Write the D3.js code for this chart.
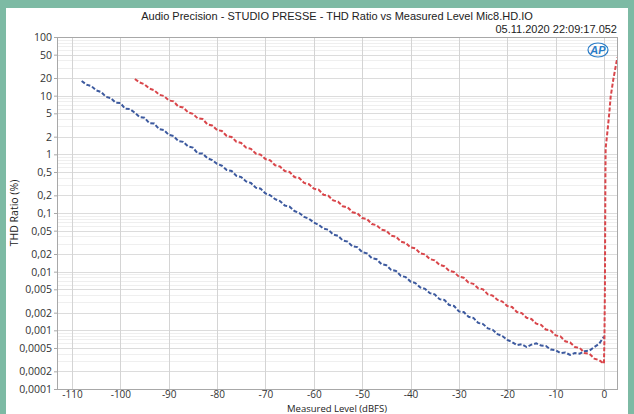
<!DOCTYPE html>
<html>
<head>
<meta charset="utf-8">
<script src="https://cdn.jsdelivr.net/npm/d3@7"></script>
<style>
  body { margin: 0; background: #7dbaa4; }
  svg { display: block; }
</style>
</head>
<body>
<script>
// THD ratio vs measured level

var blueLevel = [-108,-107,-106,-105,-104,-103,-102,-101,-100,-99,-98,-97,-96,-95,-94,-93,-92,-91,-90,-89,
  -88,-87,-86,-85,-84,-83,-82,-81,-80,-79,-78,-77,-76,-75,-74,-73,-72,-71,-70,-69,
  -68,-67,-66,-65,-64,-63,-62,-61,-60,-59,-58,-57,-56,-55,-54,-53,-52,-51,-50,-49,
  -48,-47,-46,-45,-44,-43,-42,-41,-40,-39,-38,-37,-36,-35,-34,-33,-32,-31,-30,-29,
  -28,-27,-26,-25,-24,-23,-22,-21,-20,-19,-18,-17,-16,-15,-14,-13,-12,-11,-10,-9,
  -8,-7,-6,-5,-4,-3,-2,-1,0];
var blueThd = [17.8,15.4,14.6,12.3,11.6,9.6,9.1,7.6,7.5,6.0,5.9,5.1,4.3,4.2,3.4,3.35,2.7,2.6,2.15,2.05,
  1.68,1.63,1.36,1.3,1.04,1.03,0.86,0.8,0.69,0.64,0.54,0.52,0.43,0.41,0.345,0.325,0.27,0.26,0.215,0.2,
  0.172,0.16,0.134,0.128,0.108,0.1,0.086,0.08,0.069,0.063,0.054,0.052,0.043,0.041,0.034,0.0325,0.027,0.0262,0.0215,0.0205,
  0.017,0.0163,0.0134,0.0129,0.0107,0.0103,0.0085,0.0081,0.0068,0.0064,0.0054,0.0051,0.0043,0.0041,0.0034,0.0033,0.0027,0.0026,0.0021,0.00205,
  0.0017,0.00163,0.00134,0.00128,0.00108,0.00102,0.00086,0.0008,0.00069,0.00063,0.00056,0.00058,0.00052,0.00057,0.0006,0.00055,0.00054,0.00047,0.00046,0.00041,
  0.00042,0.00038,0.00041,0.0004,0.00044,0.00045,0.00052,0.00059,0.00078];

var redLevel = [-97,-96,-95,-94,-93,-92,-91,-90,-89,-88,-87,-86,-85,-84,-83,-82,-81,-80,-79,-78,
  -77,-76,-75,-74,-73,-72,-71,-70,-69,-68,-67,-66,-65,-64,-63,-62,-61,-60,-59,-58,
  -57,-56,-55,-54,-53,-52,-51,-50,-49,-48,-47,-46,-45,-44,-43,-42,-41,-40,-39,-38,
  -37,-36,-35,-34,-33,-32,-31,-30,-29,-28,-27,-26,-25,-24,-23,-22,-21,-20,-19,-18,
  -17,-16,-15,-14,-13,-12,-11,-10,-9,-8,-7,-6,-5,-4,-3,-2,-1,-0.5,
  0,0.1,0.2,0.25,0.3,0.35,0.76,1.1,1.39,1.92,2.54,2.8];
var redThd = [19.2,16.8,15.6,13.2,12.4,10.4,9.9,8.3,8.0,6.5,6.3,5.2,4.9,4.1,4.0,3.25,3.1,2.6,2.5,2.05,
  1.98,1.64,1.56,1.3,1.24,1.03,0.99,0.83,0.79,0.65,0.62,0.52,0.5,0.41,0.395,0.325,0.31,0.26,0.25,0.205,
  0.197,0.164,0.156,0.13,0.125,0.103,0.099,0.082,0.079,0.065,0.062,0.052,0.05,0.041,0.0395,0.0325,0.031,0.026,0.025,0.0205,
  0.0197,0.0164,0.0156,0.013,0.0124,0.0103,0.0099,0.0082,0.0079,0.0065,0.0062,0.0052,0.005,0.0041,0.0039,0.0033,0.0031,0.0026,0.0025,0.00205,
  0.00197,0.00164,0.00156,0.0013,0.00124,0.00103,0.00099,0.00082,0.00079,0.00065,0.00062,0.00052,0.0005,0.00041,0.0004,0.00033,0.00031,0.00029,
  0.00027,0.0007,0.005,0.05,0.4,1.27,2.6,5.0,9.6,18.5,35.6,45];

var xTicks = [-110,-100,-90,-80,-70,-60,-50,-40,-30,-20,-10,0];
var yTicks = [100,50,20,10,5,2,1,0.5,0.2,0.1,0.05,0.02,0.01,0.005,0.002,0.001,0.0005,0.0002,0.0001];
var yTickLabels = ["100","50","20","10","5","2","1","0,5","0,2","0,1","0,05","0,02","0,01","0,005","0,002","0,001","0,0005","0,0002","0,0001"];
var yMinor = [];
[0.0001,0.001,0.01,0.1,1,10].forEach(function(d) {
  [3,4,6,7,8,9].forEach(function(m) { yMinor.push(d * m); });
});

var W = 634, H = 414;
var margin = {top: 37, right: 17, bottom: 25, left: 57};
var width = W - margin.left - margin.right,
    height = H - margin.top - margin.bottom;

var svg = d3.select("body").append("svg")
  .attr("width", W)
  .attr("height", H);

// white panel inside teal frame
svg.append("rect")
  .attr("x", 6).attr("y", 8)
  .attr("width", W - 12).attr("height", H - 8)
  .attr("fill", "#fff");

var g = svg.append("g")
  .attr("transform", "translate(" + margin.left + "," + margin.top + ")");

var x = d3.scaleLinear().domain([-113.1, 2.7]).range([0, width]);
var y = d3.scaleLog().domain([0.0001, 100]).range([height, 0]);

// minor horizontal grid
g.selectAll(".yminor")
  .data(yMinor)
  .enter().append("line")
  .attr("x1", 0).attr("x2", width)
  .attr("y1", function(d) { return Math.round(y(d)) + 0.5; })
  .attr("y2", function(d) { return Math.round(y(d)) + 0.5; })
  .attr("stroke", "#efefef");

// major horizontal grid
g.selectAll(".ymajor")
  .data(yTicks)
  .enter().append("line")
  .attr("x1", 0).attr("x2", width)
  .attr("y1", function(d) { return Math.round(y(d)) + 0.5; })
  .attr("y2", function(d) { return Math.round(y(d)) + 0.5; })
  .attr("stroke", "#dcdcdc");

// vertical grid
g.selectAll(".xgrid")
  .data(xTicks)
  .enter().append("line")
  .attr("y1", 0).attr("y2", height)
  .attr("x1", function(d) { return Math.round(x(d)) + 0.5; })
  .attr("x2", function(d) { return Math.round(x(d)) + 0.5; })
  .attr("stroke", "#d4d4d4");

// frame
g.append("rect")
  .attr("x", 0.5).attr("y", 0.5)
  .attr("width", width).attr("height", height)
  .attr("fill", "none")
  .attr("stroke", "#a8a8a8");

// axes
var yAxis = d3.axisLeft(y)
  .tickValues(yTicks)
  .tickSize(3)
  .tickFormat(function(d, i) { return yTickLabels[i]; });
var xAxis = d3.axisBottom(x)
  .tickValues(xTicks)
  .tickSize(0)
  .tickPadding(2)
  .tickFormat(function(d) { return d; });

var ya = g.append("g").call(yAxis);
var xa = g.append("g").attr("transform", "translate(0," + height + ")").call(xAxis);
[ya, xa].forEach(function(a) {
  a.select(".domain").attr("stroke", "#a8a8a8");
  a.selectAll(".tick line").attr("stroke", "#a8a8a8");
  a.selectAll("text")
    .style("font-family", "'Open Sans', sans-serif")
    .style("font-size", "10.5px")
    .attr("fill", "#333");
});
ya.selectAll("text").attr("x", -5);
xa.selectAll("text").style("font-size", "10px");

// curves
var line = d3.line()
  .x(function(d) { return x(d[0]); })
  .y(function(d) { return y(d[1]); });

g.append("clipPath").attr("id", "clip")
  .append("rect").attr("width", width).attr("height", height);

var series = [
  {level: blueLevel, thd: blueThd, color: "#3d5a9f"},
  {level: redLevel, thd: redThd, color: "#d9464b"}
];
series.forEach(function(s) {
  var pts = s.level.map(function(d, i) { return [d, s.thd[i]]; });
  g.append("path")
    .datum(pts)
    .attr("clip-path", "url(#clip)")
    .attr("fill", "none")
    .attr("stroke", s.color)
    .attr("stroke-width", 2)
    .attr("stroke-dasharray", "4,2")
    .attr("d", line);
});

// titles
svg.append("text")
  .attr("x", margin.left + width / 2)
  .attr("y", 20)
  .attr("text-anchor", "middle")
  .style("font-family", "'Liberation Sans Narrow', 'Liberation Sans', sans-serif")
  .style("font-size", "11px")
  .attr("fill", "#222")
  .text("Audio Precision - STUDIO PRESSE - THD Ratio vs Measured Level Mic8.HD.IO");

svg.append("text")
  .attr("x", 617)
  .attr("y", 33)
  .attr("text-anchor", "end")
  .style("font-family", "'Liberation Sans Narrow', 'Liberation Sans', sans-serif")
  .style("font-size", "11px")
  .attr("fill", "#222")
  .text("05.11.2020 22:09:17.052");

svg.append("text")
  .attr("x", margin.left + width / 2)
  .attr("y", 411.5)
  .attr("text-anchor", "middle")
  .style("font-family", "'Open Sans', sans-serif")
  .style("font-size", "9.5px")
  .attr("fill", "#222")
  .text("Measured Level (dBFS)");

svg.append("text")
  .attr("transform", "translate(18," + (margin.top + height / 2) + ") rotate(-90)")
  .attr("text-anchor", "middle")
  .style("font-family", "'Open Sans', sans-serif")
  .style("font-size", "10.5px")
  .attr("fill", "#222")
  .text("THD Ratio (%)");

// AP logo
var logo = svg.append("g").attr("transform", "translate(598,50)");
logo.append("ellipse")
  .attr("rx", 10).attr("ry", 7)
  .attr("fill", "none")
  .attr("stroke", "#2a7cc7")
  .attr("stroke-width", 1.2);
logo.append("text")
  .attr("text-anchor", "middle")
  .attr("y", 4)
  .style("font-family", "'Liberation Sans', sans-serif")
  .style("font-size", "11px")
  .style("font-style", "italic")
  .style("font-weight", "bold")
  .attr("fill", "#2a7cc7")
  .text("AP");
</script>
</body>
</html>
